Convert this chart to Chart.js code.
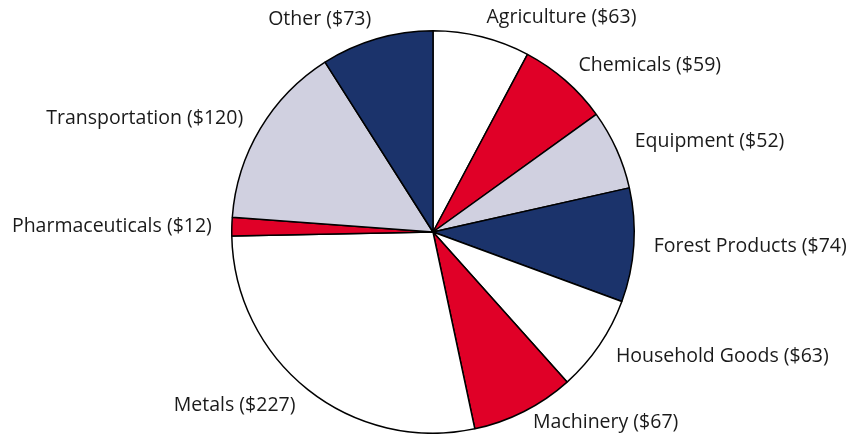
<!DOCTYPE html>
<html>
<head>
<meta charset="utf-8">
<script src="https://cdn.jsdelivr.net/npm/chart.js@4"></script>
<style>
  html, body { margin: 0; padding: 0; background: #fff; }
  #wrap { width: 860px; height: 434px; }
</style>
</head>
<body>
<div id="wrap"><canvas id="pie"></canvas></div>
<script>
const categories = ["Agriculture", "Chemicals", "Equipment", "Forest Products", "Household Goods",
  "Machinery", "Metals", "Pharmaceuticals", "Transportation", "Other"];
const values = [63, 59, 52, 74, 63, 67, 227, 12, 120, 73];
const sliceColors = ["#ffffff", "#e00027", "#d0d0e0", "#1b336b", "#ffffff",
  "#e00027", "#ffffff", "#e00027", "#d0d0e0", "#1b336b"];

// labels sit just outside the rim, aligned away from the centre
const outsideLabels = {
  id: "outsideLabels",
  afterDatasetsDraw(chart) {
    const ctx = chart.ctx;
    const meta = chart.getDatasetMeta(0);
    ctx.save();
    ctx.font = "19.5px 'Open Sans', sans-serif";
    ctx.fillStyle = "#1a1a1a";
    ctx.textBaseline = "middle";
    meta.data.forEach(function (arc, i) {
      const mid = (arc.startAngle + arc.endAngle) / 2;
      const r = arc.outerRadius + 20;
      const x = arc.x + Math.cos(mid) * r;
      let y = arc.y + Math.sin(mid) * r;
      y = Math.min(y, chart.height - 12);
      ctx.textAlign = x >= arc.x ? "left" : "right";
      ctx.fillText(categories[i] + " ($" + values[i] + ")", x, y);
    });
    ctx.restore();
  }
};

new Chart(document.querySelector("#pie"), {
  type: "pie",
  data: {
    labels: categories,
    datasets: [{
      data: values,
      backgroundColor: sliceColors,
      borderColor: "#000000",
      borderWidth: 1.5,
    }],
  },
  options: {
    responsive: true,
    maintainAspectRatio: false,
    animation: false,
    layout: { padding: { top: 30, bottom: 0, left: 6, right: 0 } },
    plugins: {
      legend: { display: false },
      tooltip: { enabled: false },
    },
  },
  plugins: [outsideLabels],
});
</script>
</body>
</html>
